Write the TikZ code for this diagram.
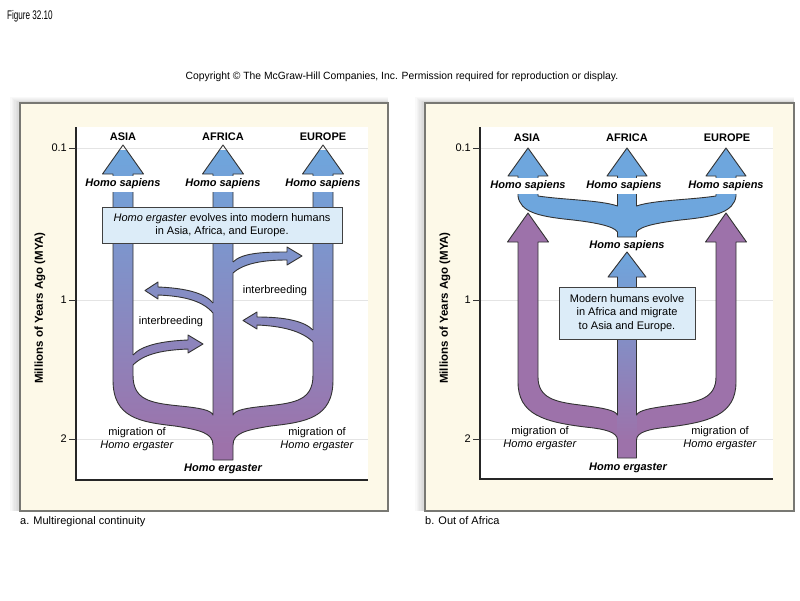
\documentclass[tikz,border=0pt]{standalone}
\usepackage{fontspec}
\setmainfont{Liberation Sans}
\definecolor{cream}{RGB}{253,249,232}
\definecolor{lblue}{RGB}{110,166,221}
\definecolor{cpurp}{RGB}{157,114,170}
\definecolor{boxblue}{RGB}{220,236,248}
\definecolor{gridc}{RGB}{228,228,228}
\definecolor{panelline}{RGB}{120,120,115}
\begin{document}
\begin{tikzpicture}[x=1pt,y=-1pt,
  outl/.style={draw=black!80, line width=0.9pt, line join=round},
  txt/.style={font=\fontsize{11}{13}\selectfont, inner sep=1pt},
  region/.style={font=\fontsize{11}{13}\selectfont\bfseries, inner sep=1pt},
  hs/.style={font=\fontsize{11}{13}\selectfont\bfseries\itshape, fill=white, inner xsep=1pt, inner ysep=3pt},
  he/.style={font=\fontsize{11}{13}\selectfont\bfseries\itshape, inner sep=1pt},
  mig/.style={font=\fontsize{11}{13}\selectfont, align=center, inner sep=1pt},
  infobox/.style={draw=black!75, line width=0.8pt, fill=boxblue, align=center, font=\fontsize{11}{13.5}\selectfont, inner sep=0pt},
  ytitle/.style={font=\fontsize{11.5}{13}\selectfont\bfseries, rotate=90, inner sep=1pt},
  ticklbl/.style={font=\fontsize{11}{13}\selectfont, anchor=east, inner sep=1pt},
  panelbox/.style={fill=cream, draw=panelline, line width=1.2pt},
  gridln/.style={draw=gridc, line width=0.6pt},
  axisln/.style={draw=black!85, line width=1.1pt},
  captxt/.style={font=\fontsize{11}{13}\selectfont, anchor=west, inner sep=0pt}
]
\useasboundingbox (0,0) rectangle (800,600);
\fill[white] (0,0) rectangle (800,600);

% header
\node[font=\fontsize{12.5}{14}\selectfont, anchor=west, xscale=0.65, inner sep=0pt] (fig) at (7,16) {Figure 32.10};
\node[font=\fontsize{10.5}{12}\selectfont, xscale=0.985, inner sep=0pt] (copy) at (402,77) {Copyright © The McGraw-Hill Companies, Inc. Permission required for reproduction or display.};

% panel shadows
\foreach \i in {1,...,7}{
  \fill[black, opacity=0.025] (20-1.4*\i,103-0.8*\i) rectangle (388,511);
  \fill[black, opacity=0.025] (425-1.4*\i,103-0.8*\i) rectangle (794,511);
}
% panels
\draw[panelbox] (20,103) rectangle (388,511);
\draw[panelbox] (425,103) rectangle (794,511);
\fill[white] (76,127) rectangle (368,480);
\fill[white] (480,127) rectangle (773,479);

% grid lines
\foreach \yy in {148,300,439}{
  \draw[gridln] (76,\yy) -- (368,\yy);
  \draw[gridln] (480,\yy) -- (773,\yy);
}
% axes
\draw[axisln] (76,127) -- (76,480) -- (368,480);
\draw[axisln] (480,127) -- (480,479) -- (773,479);
\foreach \yy in {148,300,439}{
  \draw[black!80, line width=0.8pt] (69,\yy) -- (76,\yy);
  \draw[black!80, line width=0.8pt] (473,\yy) -- (480,\yy);
}
\node[ticklbl] (la01) at (68,148) {0.1};
\node[ticklbl] (la1) at (68,300) {1};
\node[ticklbl] (la2) at (68,439) {2};
\node[ticklbl] (lb01) at (472,148) {0.1};
\node[ticklbl] (lb1) at (472,300) {1};
\node[ticklbl] (lb2) at (472,439) {2};
\node[ytitle] (ya) at (40,308) {Millions of Years Ago (MYA)};
\node[ytitle] (yb) at (445,308) {Millions of Years Ago (MYA)};

% ================= LEFT PANEL: multiregional =================
\path[save path=\bodyA] (113,174) -- (102.5,174) -- (123,145) -- (143.5,174) -- (133,174) -- (133,375)
  .. controls (133,400) and (150,403) .. (180,406) .. controls (200,408) and (211,410) .. (213,415)
  -- (213,174) -- (202.5,174) -- (223,145) -- (243.5,174) -- (233,174) -- (233,415)
  .. controls (235,410) and (246,408) .. (266,406) .. controls (296,403) and (313,400) .. (313,375)
  -- (313,174) -- (302.5,174) -- (323,145) -- (343.5,174) -- (333,174) -- (333,380)
  .. controls (333,418) and (306,422) .. (271,426) .. controls (246,430) and (233,433) .. (233,445)
  -- (233,460) -- (213,460) -- (213,445)
  .. controls (213,433) and (200,430) .. (175,426) .. controls (140,422) and (113,418) .. (113,380) -- cycle;
\begin{scope}
  \clip[use path=\bodyA];
  \shade[top color=lblue, bottom color=cpurp] (95,150) rectangle (350,445);
  \fill[cpurp] (95,444) rectangle (350,465);
\end{scope}
\draw[outl, use path=\bodyA];

% interbreeding arrows
\begin{scope}
  \clip (229,262) -- (233,262) .. controls (242,253) and (262,252) .. (287,252) -- (287,247) -- (302,256) -- (287,265) -- (287,260) .. controls (264,260) and (244,263) .. (233,273) -- (229,273) -- cycle;
  \shade[top color=lblue, bottom color=cpurp] (95,150) rectangle (350,445);
\end{scope}
\draw[outl] (233,262) .. controls (242,253) and (262,252) .. (287,252) -- (287,247) -- (302,256) -- (287,265) -- (287,260) .. controls (264,260) and (244,263) .. (233,273);

\begin{scope}
  \clip (217,303) -- (213,303) .. controls (205,293) and (185,288) .. (158,287) -- (158,282) -- (145,290.5) -- (158,299) -- (158,295) .. controls (182,296) and (202,300) .. (213,313) -- (217,313) -- cycle;
  \shade[top color=lblue, bottom color=cpurp] (95,150) rectangle (350,445);
\end{scope}
\draw[outl] (213,303) .. controls (205,293) and (185,288) .. (158,287) -- (158,282) -- (145,290.5) -- (158,299) -- (158,295) .. controls (182,296) and (202,300) .. (213,313);

\begin{scope}
  \clip (129,355) -- (133,355) .. controls (142,345) and (163,341) .. (188,340) -- (188,335) -- (203,344) -- (188,353) -- (188,349) .. controls (165,350) and (145,353) .. (133,365) -- (129,365) -- cycle;
  \shade[top color=lblue, bottom color=cpurp] (95,150) rectangle (350,445);
\end{scope}
\draw[outl] (133,355) .. controls (142,345) and (163,341) .. (188,340) -- (188,335) -- (203,344) -- (188,353) -- (188,349) .. controls (165,350) and (145,353) .. (133,365);

\begin{scope}
  \clip (317,330) -- (313,330) .. controls (304,321) and (285,317) .. (257,317) -- (257,312) -- (243,320.5) -- (257,329) -- (257,325) .. controls (282,326) and (302,331) .. (313,342) -- (317,342) -- cycle;
  \shade[top color=lblue, bottom color=cpurp] (95,150) rectangle (350,445);
\end{scope}
\draw[outl] (313,330) .. controls (304,321) and (285,317) .. (257,317) -- (257,312) -- (243,320.5) -- (257,329) -- (257,325) .. controls (282,326) and (302,331) .. (313,342);

% labels left
\node[region] (asiaA) at (123,137) {ASIA};
\node[region] (africaA) at (223,137) {AFRICA};
\node[region] (europeA) at (323,137) {EUROPE};
\node[hs] (hsA1) at (123,184) {Homo sapiens};
\node[hs] (hsA2) at (223,184) {Homo sapiens};
\node[hs] (hsA3) at (323,184) {Homo sapiens};
\node[infobox, minimum width=240pt, minimum height=36pt] (boxA) at (222,225)
  {\textit{Homo ergaster} evolves into modern humans\\in Asia, Africa, and Europe.};
\node[txt] (ib1) at (275,291) {interbreeding};
\node[txt] (ib2) at (171,322) {interbreeding};
\node[mig] (migA1) at (137,439) {migration of\\\textit{Homo ergaster}};
\node[mig] (migA2) at (317,439) {migration of\\\textit{Homo ergaster}};
\node[he] (heA) at (223,469) {Homo ergaster};
\node[captxt] (capA) at (20,522) {a. Multiregional continuity};

% ================= RIGHT PANEL: out of Africa =================
\path[save path=\bodyB] (518,242) -- (507.5,242) -- (528,213) -- (548.5,242) -- (538,242) -- (538,377)
  .. controls (538,398) and (555,402) .. (580,405) .. controls (603,408) and (615,410) .. (617.5,415)
  -- (617.5,277) -- (608,277) -- (627,252) -- (646,277) -- (636.5,277) -- (636.5,415)
  .. controls (639,410) and (651,408) .. (674,405) .. controls (699,402) and (716,398) .. (716,377)
  -- (716,242) -- (705.5,242) -- (726,213) -- (746.5,242) -- (736,242) -- (736,382)
  .. controls (736,415) and (709,422) .. (669,427) .. controls (649,429) and (636.5,432) .. (636.5,440)
  -- (636.5,458) -- (617.5,458) -- (617.5,440)
  .. controls (617.5,432) and (605,429) .. (585,427) .. controls (545,422) and (518,415) .. (518,382) -- cycle;
\fill[cpurp, use path=\bodyB];
\begin{scope}
  \clip[use path=\bodyB];
  \clip (607,250) rectangle (647,277.5) (617,277) rectangle (637,446);
  \shade[top color=lblue, bottom color=cpurp] (600,252) rectangle (655,440);
\end{scope}
\draw[outl, use path=\bodyB];

% crown of Homo sapiens
\path[save path=\crown] (518,176) -- (508,176) -- (528,148) -- (548,176) -- (538,176) -- (538,196)
  .. controls (565,200) and (600,200) .. (617.5,206) -- (617.5,176) -- (607,176) -- (627,148) -- (647,176) -- (636.5,176) -- (636.5,206)
  .. controls (654,200) and (689,200) .. (716,196) -- (716,176) -- (706,176) -- (726,148) -- (746,176) -- (736,176) -- (736,196)
  .. controls (734,212) and (715,216) .. (690,219) .. controls (660,222) and (640,226) .. (636.5,232)
  -- (636.5,237) -- (617.5,237) -- (617.5,232)
  .. controls (614,226) and (594,222) .. (564,219) .. controls (539,216) and (520,212) .. (518,196) -- cycle;
\fill[lblue, use path=\crown];
\draw[outl, use path=\crown];

% labels right
\node[region] (asiaB) at (527,138) {ASIA};
\node[region] (africaB) at (627,138) {AFRICA};
\node[region] (europeB) at (727,138) {EUROPE};
\node[hs] (hsB1) at (528,186) {Homo sapiens};
\node[hs] (hsB2) at (624,186) {Homo sapiens};
\node[hs] (hsB3) at (726,186) {Homo sapiens};
\node[he] (hsB4) at (627,246) {Homo sapiens};
\node[infobox, minimum width=136pt, minimum height=52pt] (boxB) at (627,313)
  {Modern humans evolve\\in Africa and migrate\\to Asia and Europe.};
\node[mig] (migB1) at (540,438) {migration of\\\textit{Homo ergaster}};
\node[mig] (migB2) at (720,438) {migration of\\\textit{Homo ergaster}};
\node[he] (heB) at (628,468) {Homo ergaster};
\node[captxt] (capB) at (425,521) {b. Out of Africa};
\end{tikzpicture}
\end{document}
